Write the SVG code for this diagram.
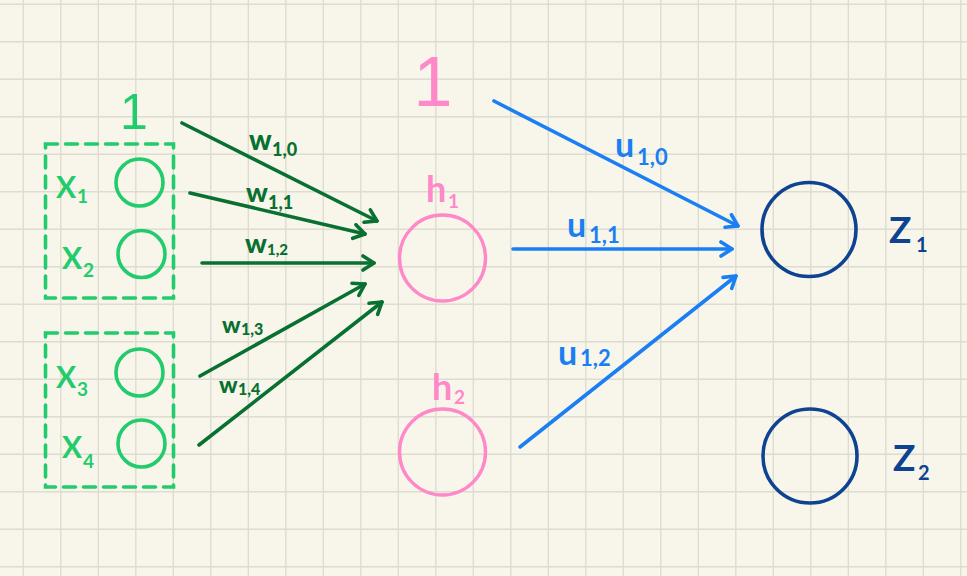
<svg xmlns="http://www.w3.org/2000/svg" width="967" height="576" viewBox="0 0 967 576">
<style>
text{font-family:Lato,"Noto Sans","DejaVu Sans",sans-serif}
.one{font-family:"Liberation Sans",Arial,sans-serif;font-weight:400}
.lg{fill:#22cc6c}
.dg{fill:#087030;font-weight:900}
.pk{fill:#ff88c8}
.bl{fill:#1a7ff2;font-weight:700}
.db{fill:#0d4390}
.nx{fill:none;stroke:#22cc6c;stroke-width:3.6}
.box{fill:none;stroke:#22cc6c;stroke-width:3.6;stroke-dasharray:12 8;stroke-linecap:round}
.nh{fill:none;stroke:#ff88c8;stroke-width:3.4}
.nz{fill:none;stroke:#0d4390;stroke-width:3.6}
.eg{stroke:#087030;stroke-width:3.6;stroke-linecap:round;fill:none;marker-end:url(#ag)}
.eb{stroke:#1a7ff2;stroke-width:3.6;stroke-linecap:round;fill:none;marker-end:url(#ab)}
</style>
<defs>
<marker id="ag" markerUnits="userSpaceOnUse" markerWidth="24" markerHeight="24" refX="14" refY="9" orient="auto">
<path d="M3,2 L14,9 L3,16" fill="none" stroke="#087030" stroke-width="3.6" stroke-linecap="round" stroke-linejoin="round"/>
</marker>
<marker id="ab" markerUnits="userSpaceOnUse" markerWidth="24" markerHeight="24" refX="14" refY="9" orient="auto">
<path d="M3,2 L14,9 L3,16" fill="none" stroke="#1a7ff2" stroke-width="3.6" stroke-linecap="round" stroke-linejoin="round"/>
</marker>
</defs>
<rect width="967" height="576" fill="#f8f6eb"/>
<g id="grid" stroke="#dedbd0" stroke-width="1.4">
<path d="M23.3 0V576M60.8 0V576M98.3 0V576M135.8 0V576M173.3 0V576M210.8 0V576M248.3 0V576M285.8 0V576M323.3 0V576M360.8 0V576M398.3 0V576M435.8 0V576M473.3 0V576M510.8 0V576M548.3 0V576M585.8 0V576M623.3 0V576M660.8 0V576M698.3 0V576M735.8 0V576M773.3 0V576M810.8 0V576M848.3 0V576M885.8 0V576M923.3 0V576M960.8 0V576"/>
<path d="M0 4.2H967M0 41.7H967M0 79.2H967M0 116.7H967M0 154.2H967M0 191.7H967M0 229.2H967M0 266.7H967M0 304.2H967M0 341.7H967M0 379.2H967M0 416.7H967M0 454.2H967M0 491.7H967M0 529.2H967M0 566.7H967"/>
</g>
<g id="connectors">
<line class="eg" x1="182" y1="123" x2="377" y2="221"/>
<line class="eg" x1="190" y1="193" x2="365" y2="234"/>
<line class="eg" x1="202" y1="263" x2="374" y2="263"/>
<line class="eg" x1="200" y1="376" x2="365" y2="284"/>
<line class="eg" x1="199" y1="445" x2="382" y2="302"/>
<line class="eb" x1="494" y1="101" x2="738" y2="226"/>
<line class="eb" x1="513" y1="249" x2="732" y2="249"/>
<line class="eb" x1="520" y1="447" x2="736" y2="276"/>
<text class="dg" x="249" y="150" font-size="28">w</text><text class="dg" x="272" y="156" font-size="18">1,0</text>
<text class="dg" x="246" y="202" font-size="27">w</text><text class="dg" x="268" y="209" font-size="18">1,1</text>
<text class="dg" x="245" y="253" font-size="27">w</text><text class="dg" x="267" y="255" font-size="15">1,2</text>
<text class="dg" x="222" y="333" font-size="23">w</text><text class="dg" x="241" y="335" font-size="16">1,3</text>
<text class="dg" x="219" y="393" font-size="23">w</text><text class="dg" x="238" y="395" font-size="16">1,4</text>
<text class="bl" x="615" y="157" font-size="34">u</text><text class="bl" x="637" y="165" font-size="22">1,0</text>
<text class="bl" x="567" y="237" font-size="34">u</text><text class="bl" x="589" y="243" font-size="22">1,1</text>
<text class="bl" x="558" y="365" font-size="34">u</text><text class="bl" x="580" y="366" font-size="22">1,2</text>
</g>
<g id="bias-input">
<text class="lg one" x="134" y="129" font-size="50" text-anchor="middle">1</text>
</g>
<g id="group-x1-x2">
<rect class="box" x="45.5" y="144" width="128" height="154"/>
</g>
<g id="group-x3-x4">
<rect class="box" x="45.5" y="333" width="128" height="154"/>
</g>
<g id="node-x1">
<circle class="nx" cx="139.5" cy="182.5" r="23.5"/>
<text class="lg" x="56" y="198" font-size="30" font-weight="700">X</text><text class="lg" x="77" y="203" font-size="19" font-weight="700">1</text>
</g>
<g id="node-x2">
<circle class="nx" cx="141.5" cy="254" r="23.5"/>
<text class="lg" x="62" y="269" font-size="30" font-weight="700">X</text><text class="lg" x="83" y="277" font-size="19" font-weight="700">2</text>
</g>
<g id="node-x3">
<circle class="nx" cx="139.5" cy="372.5" r="23.5"/>
<text class="lg" x="56" y="388" font-size="30" font-weight="700">X</text><text class="lg" x="77" y="396" font-size="19" font-weight="700">3</text>
</g>
<g id="node-x4">
<circle class="nx" cx="141.5" cy="443.5" r="23.5"/>
<text class="lg" x="62" y="458" font-size="30" font-weight="700">X</text><text class="lg" x="83" y="468" font-size="19" font-weight="700">4</text>
</g>
<g id="bias-hidden">
<text class="pk one" x="433" y="106" font-size="70" text-anchor="middle">1</text>
</g>
<g id="node-h1">
<circle class="nh" cx="442.5" cy="258" r="43"/>
<text class="pk" x="426" y="202" font-size="36" font-weight="700">h</text><text class="pk" x="448" y="208" font-size="19" font-weight="700">1</text>
</g>
<g id="node-h2">
<circle class="nh" cx="442.5" cy="452" r="43"/>
<text class="pk" x="432" y="400" font-size="36" font-weight="700">h</text><text class="pk" x="454" y="404" font-size="19" font-weight="700">2</text>
</g>
<g id="node-z1">
<circle class="nz" cx="809" cy="229.5" r="47"/>
<text class="db" x="889" y="243" font-size="37" font-weight="700">Z</text><text class="db" x="916" y="252" font-size="20" font-weight="700">1</text>
</g>
<g id="node-z2">
<circle class="nz" cx="810" cy="456" r="47"/>
<text class="db" x="893" y="471" font-size="37" font-weight="700">Z</text><text class="db" x="918" y="480" font-size="20" font-weight="700">2</text>
</g>
</svg>
